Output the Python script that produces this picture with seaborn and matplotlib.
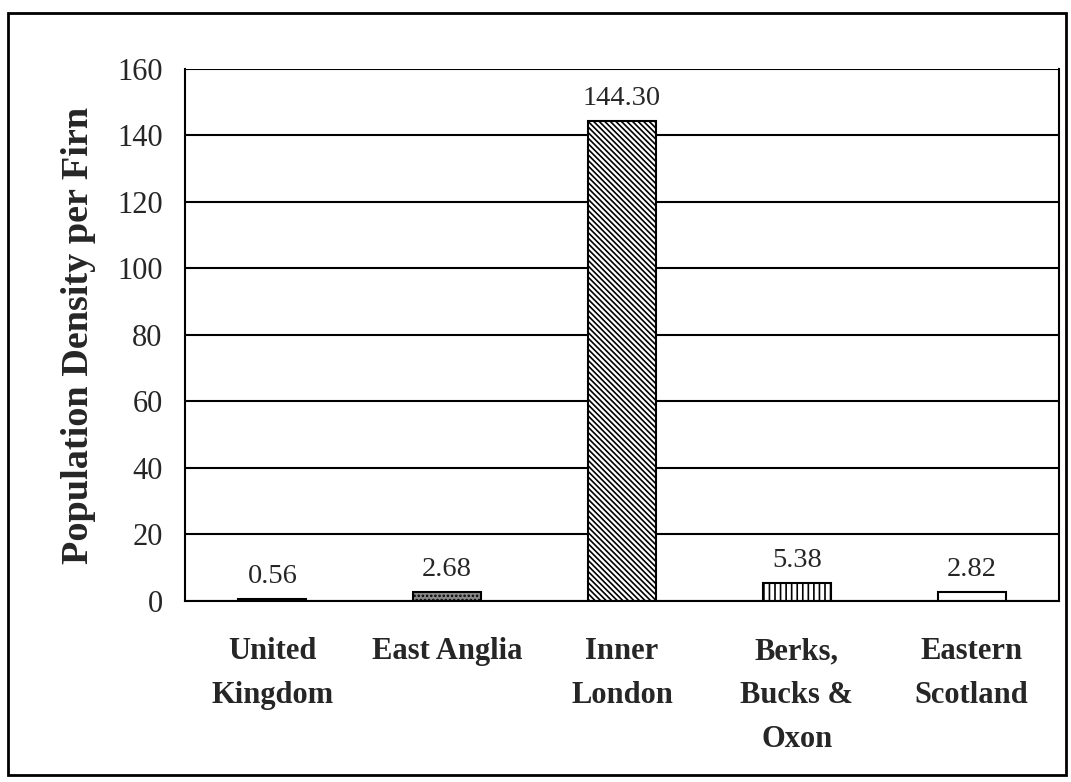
import matplotlib
matplotlib.use("Agg")
import matplotlib.pyplot as plt
import seaborn as sns
import pandas as pd
from matplotlib.patches import Rectangle

# data
regions = ["United\nKingdom", "East Anglia", "Inner\nLondon", "Berks,\nBucks &\nOxon", "Eastern\nScotland"]
density = [0.56, 2.68, 144.30, 5.38, 2.82]
y_ticks = [0, 20, 40, 60, 80, 100, 120, 140, 160]

fills = ["#000000", "#888888", "#ffffff", "#ffffff", "#ffffff"]
hatches = ["", "....", "\\" * 6, "|||", ""]

sns.set_style("white")
plt.rcParams["font.family"] = ["Liberation Serif", "DejaVu Serif"]
plt.rcParams["hatch.linewidth"] = 1.2

df = pd.DataFrame({"Region": regions, "Density": density})

fig = plt.figure(figsize=(10.71, 7.82), dpi=100)
ax = fig.add_axes([0.1727, 0.2315, 0.9888 - 0.1727, 0.9118 - 0.2315])

sns.barplot(data=df, x="Region", y="Density", ax=ax, width=0.39,
            color="white", edgecolor="black", linewidth=1.5, saturation=1)

for bar, fc, h in zip(ax.patches, fills, hatches):
    bar.set_facecolor(fc)
    bar.set_hatch(h)
    bar.set_edgecolor("black")

ax.bar_label(ax.containers[0], fmt="%.2f", padding=7, fontsize=20.5)

ax.set_ylim(0, 160)
ax.set_xlim(-0.5, 4.5)
ax.set_yticks(y_ticks)
ax.yaxis.grid(True, color="black", linewidth=1.5)
ax.set_axisbelow(True)

ax.set_xticks(range(len(regions)))
ax.set_xticklabels(regions, fontsize=22, fontweight="bold", linespacing=1.67)
ax.set_xticks([i - 0.5 for i in range(len(regions) + 1)], minor=True)
ax.tick_params(axis="x", which="major", length=0, pad=26)
ax.tick_params(axis="x", which="minor", length=10, width=1.5, color="black")
ax.tick_params(axis="y", length=10, width=1.5, color="black", labelsize=22, pad=6)
for lab in ax.get_xticklabels():
    lab.set_verticalalignment("top")

ax.set_xlabel("")
ax.set_ylabel("Population Density per Firn", fontsize=27.5, fontweight="bold", labelpad=15)

for s in ax.spines.values():
    s.set_color("black")
    s.set_linewidth(1.5)
ax.spines["top"].set_visible(False)

# outer chart border
fig.patches.append(Rectangle((8 / 1071, 1 - 775 / 782), (1066 - 8) / 1071, (775 - 13) / 782,
                             transform=fig.transFigure, fill=False, edgecolor="black", linewidth=2))

fig.savefig("out.png", dpi=100)
